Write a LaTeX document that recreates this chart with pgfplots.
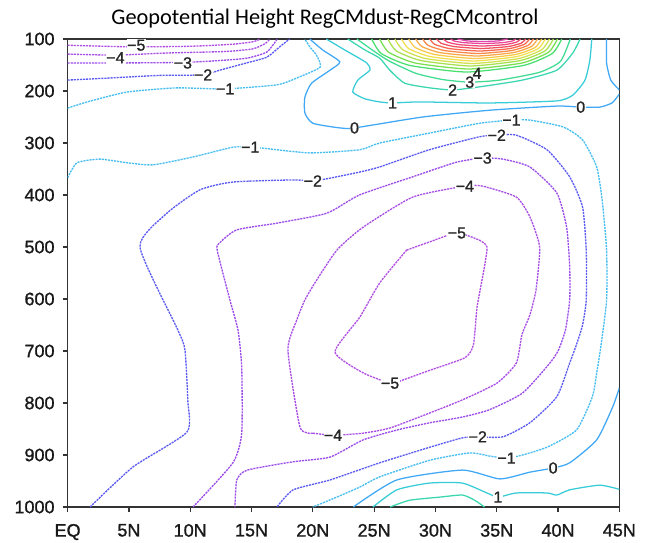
\documentclass[border=0pt]{standalone}
\usepackage{fontspec}
\setmainfont{Liberation Sans}
\newfontfamily\tickfont[FakeBold=1.2]{Liberation Sans}
\newfontfamily\titlefont{Carlito}
\usepackage{pgfplots}
\pgfplotsset{compat=1.18}
\usetikzlibrary{calc}

\definecolor{cm5}{HTML}{B050E4}
\definecolor{cm4}{HTML}{A850E6}
\definecolor{cm3}{HTML}{9C4EEA}
\definecolor{cm2}{HTML}{5C5CF2}
\definecolor{cm1}{HTML}{48BEF2}
\definecolor{c0}{HTML}{40A8F4}
\definecolor{c1}{HTML}{38CCD8}
\definecolor{c2}{HTML}{3AD6B0}
\definecolor{c3}{HTML}{40DC92}
\definecolor{c4}{HTML}{4AE070}
\definecolor{c5}{HTML}{78E050}
\definecolor{c6}{HTML}{A8E050}
\definecolor{c7}{HTML}{D0E050}
\definecolor{c8}{HTML}{F0E050}
\definecolor{c9}{HTML}{F8C848}
\definecolor{c10}{HTML}{F8A848}
\definecolor{c11}{HTML}{F88848}
\definecolor{c12}{HTML}{F86850}
\definecolor{c13}{HTML}{F05060}
\definecolor{c14}{HTML}{F04878}
\definecolor{c15}{HTML}{E84898}
\definecolor{c16}{HTML}{E048B0}

\tikzset{
  negc/.style={line width=1pt, dash pattern=on 1.6pt off 0.7pt},
  posc/.style={line width=0.95pt},
  clab/.style={fill=white, inner sep=0.3pt, font=\tickfont\fontsize{12}{13}\selectfont, text=black!85},
}

\begin{document}
\begin{tikzpicture}
\begin{axis}[
  width=413.8pt, height=351pt, scale only axis,
  xmin=0, xmax=45, ymin=100, ymax=1000, y dir=reverse,
  xtick={0,5,...,45},
  xticklabels={EQ,5N,10N,15N,20N,25N,30N,35N,40N,45N},
  ytick={100,200,...,1000},
  tick align=outside, tick pos=left,
  major tick length=3.75pt,
  axis line style={line width=1.1pt, black!80},
  tick style={line width=0.9pt, black!80},
  ticklabel style={font=\tickfont\fontsize{13.5}{15}\selectfont, text=black!90},
  xticklabel style={yshift=-5.5pt},
  yticklabel style={xshift=-2.5pt},
  /pgf/number format/assume math mode=true,
  /pgf/number format/set thousands separator={},
  scaled y ticks=false,
  title={Geopotential Height RegCMdust-RegCMcontrol},
  title style={font=\titlefont\fontsize{16.75}{19}\selectfont, at={(0.4666,1)}, anchor=base, yshift=5pt},
  every axis plot/.append style={smooth, tension=0.35},
]
\coordinate (SW) at (axis cs:0,1000);
\coordinate (NE) at (axis cs:45,100);

% ---- top-left negative contours
\addplot[negc, cm5] coordinates {(0,112) (5,115) (10,114) (13.5,110) (15.2,105) (15.7,100)};
\addplot[negc, cm4] coordinates {(0,129) (4,131) (8,127) (12.9,124) (15.1,119) (16.1,109) (16.5,100)};
\addplot[negc, cm3] coordinates {(0,146) (4.85,146) (9.4,145) (12,142) (14.6,137) (16.25,125) (17.1,100)};
\addplot[negc, cm2] coordinates {(0,179) (3.45,175) (7.5,170) (11.05,169) (12.4,160) (14.6,146) (16.25,135) (17.3,115) (18.1,100)};
\addplot[negc, cm1] coordinates {(0,233) (1.6,221) (4.85,202) (8.9,194) (12.8,196) (17.1,188) (18.9,173) (20.6,154) (20.3,131) (19.75,115) (19.35,100)};

% ---- main negative cell
\addplot[negc, cm1] coordinates {
  (0,367) (0.77,338) (2.64,331) (4.85,338) (6.97,342) (10.2,327) (13.5,308) (14.9,308)
  (15.95,310) (19.75,319) (23.83,313) (25.46,300) (29.5,281) (33.6,262) (36.2,256)
  (37.7,256) (40.4,269) (42.0,294) (43.15,346) (43.6,410) (43.96,506) (43.96,602)
  (43.5,690) (43.2,735) (42.8,788) (41.5,852) (39.1,885) (37.1,900) (35.8,906)
  (34.4,902) (32.8,896) (29.55,910) (25.46,942) (23.8,962) (21.95,981) (20.0,1000)};
\addplot[negc, cm2] coordinates {
  (1.83,1000) (5.33,923) (9.73,856) (9.8,794) (9.57,698) (9.0,660) (5.9,500)
  (8.1,435) (10.8,390) (13.5,375) (18.4,371) (20.0,373) (21.1,369) (23.8,356)
  (25.46,346) (29.5,313) (33.6,288) (35.0,285) (36.6,285) (39.1,313) (40.95,365)
  (42.0,423) (42.3,506) (42.3,602) (42.0,650) (41.5,688) (40.95,723) (39.9,788)
  (37.7,838) (35.5,865) (33.45,865) (32.2,867) (29.55,885) (25.46,915) (21.4,948)
  (18.4,967) (17.07,1000)};
\addplot[negc, cm3] coordinates {
  (10.23,1000) (13.48,915) (14.2,858) (14.2,731) (13.9,660) (13.24,602) (12.2,506)
  (12.4,492) (13.8,467) (17.1,454) (21.14,435) (23.8,400) (28.15,365) (31.7,337)
  (33.85,329) (35.5,331) (37.7,346) (39.9,396) (40.7,462) (40.95,538) (40.95,602)
  (40.6,660) (40.0,700) (39.2,727) (37.1,781) (34.4,813) (32.2,827) (29.55,838)
  (26.85,852) (24.1,871) (21.4,904) (18.4,913) (14.65,929) (13.8,948) (13.65,1000)};
\addplot[negc, cm4] coordinates {
  (20.0,858) (18.95,846) (17.97,698) (18.7,640) (19.35,602) (20.17,569) (21.96,506)
  (24.1,462) (28.15,404) (32.4,383) (33.85,383) (36.6,404) (37.7,442) (38.5,500)
  (38.2,583) (37.7,631) (37.05,669) (36.6,723) (35.0,762) (32.2,794) (29.55,819)
  (26.3,848) (24.1,858) (21.65,862) (20.0,858)};
\addplot[negc, cm5] coordinates {
  (27.65,506) (29.55,490) (31.75,473) (33.6,487) (34.2,500) (34.0,538) (33.4,615)
  (33.1,688) (32.4,713) (29.55,737) (26.85,760) (26.3,762) (24.1,742) (21.8,702)
  (23.83,635) (25.46,569) (27.65,506)};

% ---- zero contours
\addplot[posc, c0] coordinates {
  (19.75,100) (20.8,121) (22.2,144) (21.4,160) (19.9,185) (19.35,212) (19.35,242)
  (20.0,262) (22.2,271) (23.4,271) (28.96,250) (34.4,237) (39.9,229) (41.85,231)
  (43.4,231) (44.4,223) (45,206)};
\addplot[posc, c0] coordinates {(43.96,100) (43.96,146) (44.3,179) (45,198)};
\addplot[posc, c0] coordinates {
  (23.3,1000) (26.85,948) (32.2,929) (35.25,946) (37.7,933) (39.6,925) (40.95,915)
  (43.15,871) (44.45,808) (45,771)};

% ---- positive contours
\addplot[posc, c1] coordinates {
  (21.1,100) (22.6,121) (24.4,146) (24.65,160) (23.67,179) (23.26,202) (24.24,215)
  (25.46,221) (26.5,223) (28.73,221) (34.4,223) (39.9,219) (41.2,208) (42.2,179)
  (42.6,140) (42.75,100)};
\addplot[posc, c1] coordinates {
  (24.9,1000) (26.85,967) (29.5,954) (32.2,954) (34.2,973) (35.1,981) (36.6,973)
  (39.1,973) (39.9,977) (40.95,967) (43.4,958) (45,966)};
\addplot[posc, c2] coordinates {
  (26.3,1000) (27.9,987) (30.35,981) (32.2,977) (33.2,987) (34.0,1000)};
\addplot[posc, c2] coordinates {
  (22.85,100) (24.24,121) (25.46,137) (26.28,160) (27.5,185) (29.55,194) (31.4,198)
  (33.6,192) (37.1,179) (39.9,160) (41.2,127) (41.8,100)};
\addplot[posc, c3] coordinates {
  (23.6,100) (24.9,122) (26.2,142) (28.4,166) (30.6,178) (32.8,183) (35.25,179)
  (38.5,164) (40.2,143) (41.0,100)};
\addplot[posc, c4] coordinates {(24.8,100) (25.58,127.9) (27.9,150.8) (32.55,163.5) (37.2,150.8) (39.53,127.9) (40.3,100)};
\addplot[posc, c5] coordinates {(25.45,100) (26.18,125.4) (28.35,146.2) (32.7,157.7) (37.05,146.2) (39.23,125.4) (39.95,100)};
\addplot[posc, c6] coordinates {(26.12,100) (26.8,122.8) (28.82,141.5) (32.87,151.9) (36.92,141.5) (38.95,122.8) (39.62,100)};
\addplot[posc, c7] coordinates {(26.7,100) (27.33,120.7) (29.22,137.7) (33.0,147.1) (36.78,137.7) (38.67,120.7) (39.3,100)};
\addplot[posc, c8] coordinates {(27.23,100) (27.82,118.6) (29.58,133.8) (33.1,142.3) (36.62,133.8) (38.38,118.6) (38.97,100)};
\addplot[posc, c9] coordinates {(27.82,100) (28.36,116.5) (29.99,130) (33.24,137.5) (36.49,130) (38.12,116.5) (38.66,100)};
\addplot[posc, c10] coordinates {(28.39,100) (28.89,114.4) (30.38,126.2) (33.36,132.7) (36.34,126.2) (37.83,114.4) (38.33,100)};
\addplot[posc, c11] coordinates {(28.96,100) (29.41,112.3) (30.77,122.3) (33.48,127.9) (36.19,122.3) (37.55,112.3) (38.0,100)};
\addplot[posc, c12] coordinates {(29.53,100) (29.94,110.2) (31.16,118.5) (33.6,123.1) (36.04,118.5) (37.26,110.2) (37.67,100)};
\addplot[posc, c13] coordinates {(30.1,100) (30.46,108.1) (31.55,114.6) (33.73,118.3) (35.91,114.6) (37.0,108.1) (37.36,100)};
\addplot[posc, c14] coordinates {(30.66,100) (30.97,105.9) (31.92,110.8) (33.8,113.5) (35.68,110.8) (36.63,105.9) (36.94,100)};
\addplot[posc, c15] coordinates {(31.25,100) (31.52,103.8) (32.31,107) (33.9,108.7) (35.49,107) (36.29,103.8) (36.55,100)};
\addplot[posc, c16] coordinates {(31.81,100) (32.63,103.8) (33.85,104.8) (35.07,103.8) (35.89,100)};

% ---- contour labels
\node[clab] at (axis cs:5.6,112) {−5};
\node[clab] at (axis cs:3.9,136) {−4};
\node[clab] at (axis cs:9.4,146) {−3};
\node[clab] at (axis cs:11.05,169) {−2};
\node[clab] at (axis cs:12.85,196) {−1};
\node[clab] at (axis cs:14.9,308) {−1};
\node[clab] at (axis cs:20.0,373) {−2};
\node[clab] at (axis cs:23.4,271) {0};
\node[clab] at (axis cs:26.5,223) {1};
\node[clab] at (axis cs:31.4,198) {2};
\node[clab] at (axis cs:32.8,183) {3};
\node[clab, fill=none] at (axis cs:33.4,166) {4};
\node[clab] at (axis cs:41.85,231) {0};
\node[clab] at (axis cs:36.2,256) {−1};
\node[clab] at (axis cs:35.0,285) {−2};
\node[clab] at (axis cs:33.85,329) {−3};
\node[clab] at (axis cs:32.4,383) {−4};
\node[clab] at (axis cs:31.75,473) {−5};
\node[clab] at (axis cs:26.3,762) {−5};
\node[clab] at (axis cs:21.65,862) {−4};
\node[clab] at (axis cs:33.45,865) {−2};
\node[clab] at (axis cs:35.8,906) {−1};
\node[clab] at (axis cs:39.6,925) {0};
\node[clab] at (axis cs:35.1,981) {1};
\end{axis}
\pgfresetboundingbox
\path[use as bounding box] ($(SW)+(-50.7pt,-26.25pt)$) rectangle ($(NE)+(21.5pt,29.25pt)$);
\end{tikzpicture}
\end{document}
